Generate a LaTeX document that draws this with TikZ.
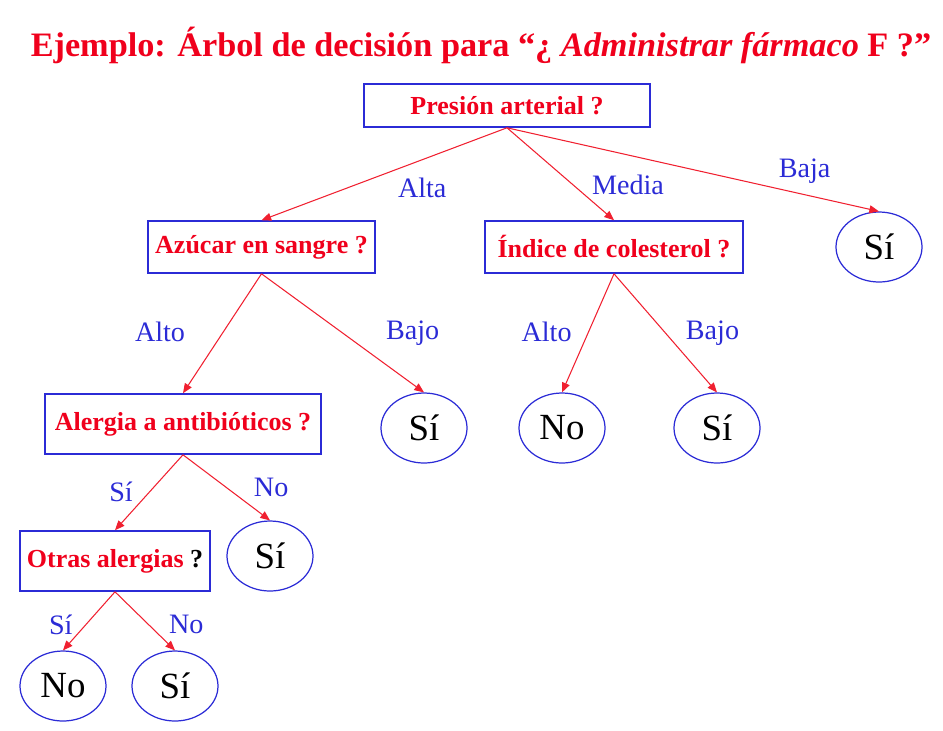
\documentclass[tikz,border=0pt]{standalone}
\usepackage{fontspec}
\setmainfont{Liberation Serif}
\usepackage{xcolor}
\usepackage{tikz}
\usetikzlibrary{shapes.geometric, arrows.meta, positioning}
\definecolor{titlered}{HTML}{F0001C}
\definecolor{treeblue}{HTML}{2B2BD6}
\definecolor{edgered}{HTML}{F02030}

\begin{document}
\begin{tikzpicture}[
  question/.style={rectangle, draw=treeblue, line width=0.9pt, minimum height=1.04cm,
                   inner xsep=3pt, font=\fontsize{14.8}{17}\selectfont\bfseries,
                   text=titlered},
  leaf/.style={ellipse, draw=treeblue, line width=0.7pt, minimum width=1.72cm,
               minimum height=1.4cm, font=\fontsize{21}{25}\selectfont},
  branch/.style={-{Triangle[length=5.5pt, width=4.5pt]}, edgered, line width=0.6pt},
  answer/.style={font=\fontsize{16}{19}\selectfont, text=treeblue}
]
\useasboundingbox (0,0) rectangle (18.86,-14.6);

% Title
\node[font=\fontsize{19.5}{23}\selectfont\bfseries, text=titlered] (title) at (9.62,-0.9)
      {Ejemplo: Árbol de decisión para “¿ \textit{Administrar fármaco} F ?”};

% First level
\node[question, minimum width=5.72cm, minimum height=0.86cm] (presion) at (10.14,-2.11)
      {Presión arterial ?};

% Second level
\node[question, minimum width=4.54cm] (azucar) at (5.23,-4.94) {Azúcar en sangre ?};
\node[question, minimum width=5.16cm] (indice) at (12.28,-4.94) {Índice de colesterol ?};
\node[leaf] (siBaja) at (17.58,-4.94) {Sí};

% Third level
\node[question, minimum width=5.52cm, minimum height=1.2cm] (alergia) at (3.66,-8.48)
      {Alergia a antibióticos ?};
\node[leaf] (siBajo) at (8.48,-8.56) {Sí};
\node[leaf] (noCol) at (11.24,-8.56) {No};
\node[leaf] (siCol) at (14.34,-8.56) {Sí};

% Fourth level
\node[question, minimum width=3.8cm, minimum height=1.2cm] (otras) at (2.30,-11.22)
      {Otras alergias \textcolor{black}{?}};
\node[leaf] (siNo) at (5.40,-11.12) {Sí};

% Fifth level
\node[leaf] (noOtras) at (1.26,-13.72) {No};
\node[leaf] (siOtras) at (3.50,-13.72) {Sí};

% Branches
\draw[branch] (presion.south) -- node[answer, pos=0.47, below right]{Alta} (azucar.north);
\draw[branch] (presion.south) -- node[answer, pos=0.62, right=7pt]{Media} (indice.north);
\draw[branch] (presion.south) -- node[answer, pos=0.8, above=3pt]{Baja} (siBaja.north);

\draw[branch] (azucar.south) -- node[answer, pos=0.49, left=18pt]{Alto} (alergia.north);
\draw[branch] (azucar.south) -- node[answer, pos=0.5, right=21pt]{Bajo} (siBajo.north);

\draw[branch] (indice.south) -- node[answer, pos=0.49, left=6pt]{Alto} (noCol.north);
\draw[branch] (indice.south) -- node[answer, pos=0.5, right=8pt]{Bajo} (siCol.north);

\draw[branch] (alergia.south) -- node[answer, pos=0.49, left=6pt]{Sí} (otras.north);
\draw[branch] (alergia.south) -- node[answer, pos=0.5, right=12pt]{No} (siNo.north);

\draw[branch] (otras.south) -- node[answer, pos=0.56, left=4pt]{Sí} (noOtras.north);
\draw[branch] (otras.south) -- node[answer, pos=0.56, right=8pt]{No} (siOtras.north);

\end{tikzpicture}
\end{document}
